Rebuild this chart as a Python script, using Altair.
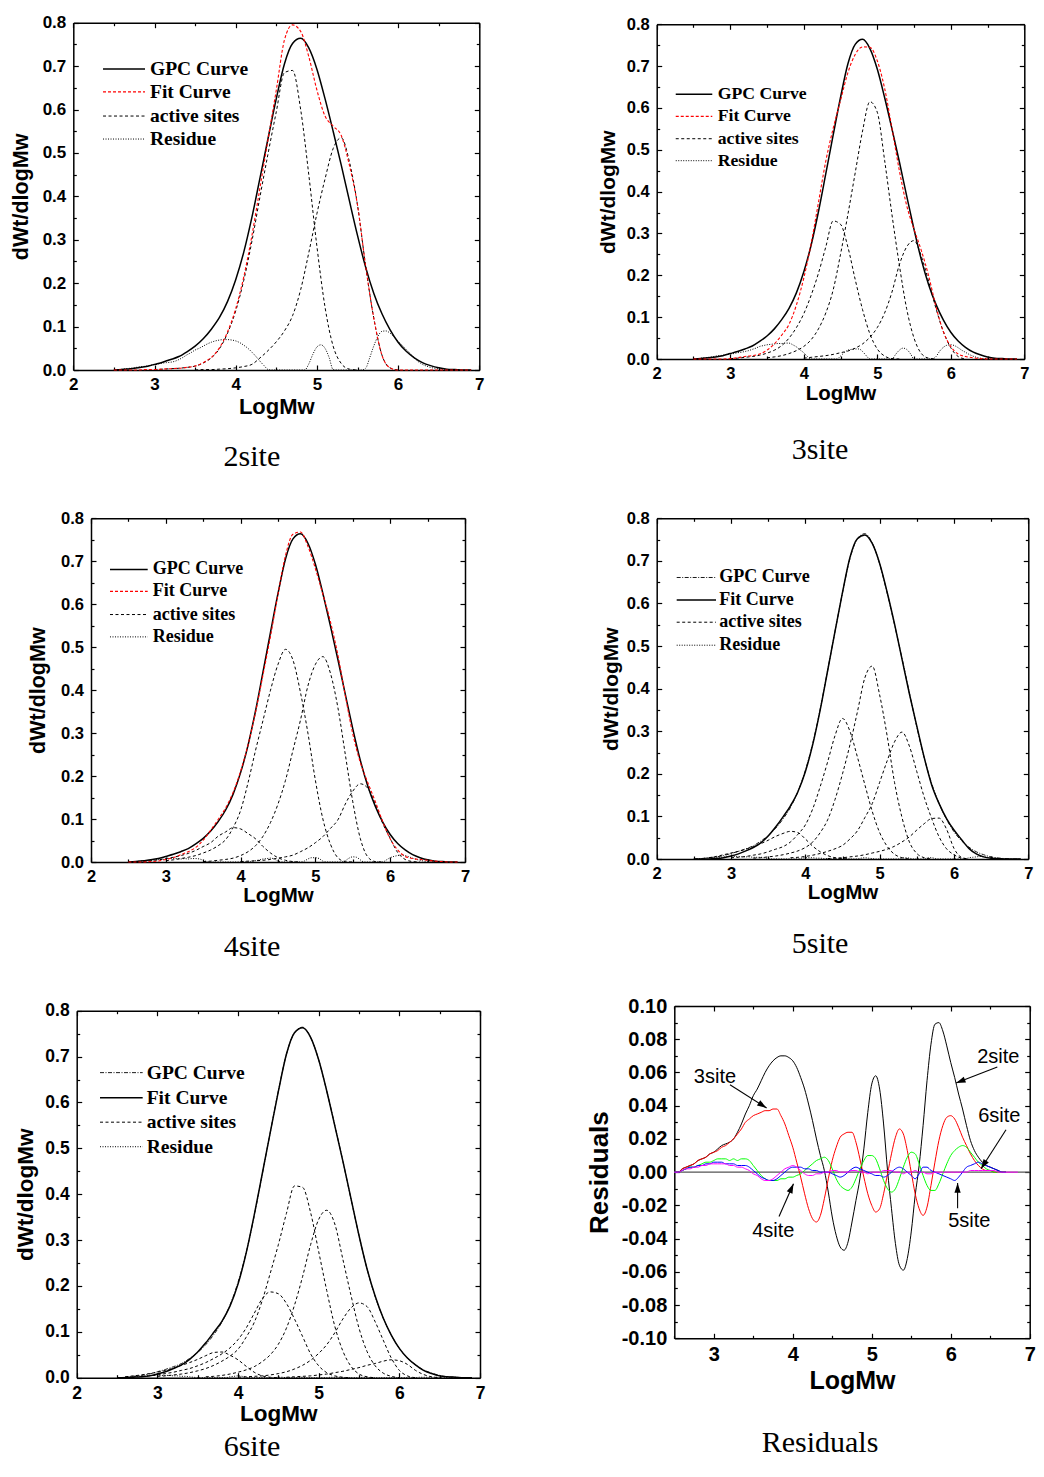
import altair as alt
import pandas as pd

W, H = 1028, 1455

# ---------------- data ----------------
X_START, X_STEP = 2.5, 0.1      # grid of the distribution curves
R_START, R_STEP = 2.5, 0.05     # grid of the residual curves

GPC = [0.000, 0.001, 0.003, 0.005, 0.008, 0.013, 0.018, 0.024, 0.031, 0.042,
       0.055, 0.072, 0.094, 0.121, 0.158, 0.208, 0.272, 0.352, 0.443, 0.535,
       0.625, 0.705, 0.752, 0.764, 0.742, 0.693, 0.625, 0.550, 0.472, 0.390,
       0.310, 0.237, 0.177, 0.130, 0.093, 0.064, 0.043, 0.028, 0.017, 0.010,
       0.005, 0.002, 0.001, 0.000, 0.000]

FIT_2SITE = [0.000, 0.000, 0.000, 0.000, 0.001, 0.001, 0.002, 0.003, 0.004, 0.006,
             0.009, 0.017, 0.029, 0.051, 0.088, 0.141, 0.215, 0.310, 0.421, 0.533,
             0.645, 0.760, 0.795, 0.780, 0.722, 0.645, 0.585, 0.562, 0.540, 0.472,
             0.380, 0.240, 0.120, 0.035, 0.005, 0.000, 0.000, 0.000, 0.000, 0.000,
             0.000, 0.000, 0.000, 0.000, 0.000]
FIT_3SITE = [0.000, 0.000, 0.000, 0.000, 0.000, 0.001, 0.003, 0.006, 0.008, 0.012,
             0.021, 0.036, 0.057, 0.083, 0.129, 0.193, 0.275, 0.374, 0.473, 0.551,
             0.618, 0.684, 0.728, 0.746, 0.745, 0.713, 0.647, 0.551, 0.451, 0.367,
             0.310, 0.259, 0.198, 0.124, 0.065, 0.030, 0.012, 0.006, 0.003, 0.001,
             0.000, 0.000, 0.000, 0.000, 0.000]
FIT_4SITE = [0.000, 0.000, 0.000, 0.001, 0.002, 0.006, 0.010, 0.017, 0.024, 0.034,
             0.051, 0.074, 0.099, 0.126, 0.162, 0.211, 0.273, 0.349, 0.436, 0.526,
             0.623, 0.713, 0.763, 0.768, 0.735, 0.683, 0.623, 0.560, 0.482, 0.387,
             0.298, 0.232, 0.185, 0.141, 0.094, 0.054, 0.028, 0.013, 0.008, 0.006,
             0.004, 0.002, 0.001, 0.000, 0.000]
FIT_5SITE = [0.000, 0.000, 0.000, 0.001, 0.003, 0.007, 0.012, 0.019, 0.027, 0.038,
             0.054, 0.075, 0.099, 0.125, 0.158, 0.205, 0.269, 0.350, 0.442, 0.535,
             0.626, 0.708, 0.752, 0.761, 0.741, 0.694, 0.627, 0.552, 0.470, 0.388,
             0.312, 0.238, 0.174, 0.130, 0.095, 0.068, 0.046, 0.025, 0.012, 0.005,
             0.002, 0.001, 0.000, 0.000, 0.000]
FIT_6SITE = [0.000, 0.000, 0.001, 0.002, 0.004, 0.008, 0.013, 0.020, 0.028, 0.040,
             0.056, 0.076, 0.099, 0.123, 0.156, 0.204, 0.271, 0.354, 0.444, 0.535,
             0.624, 0.705, 0.752, 0.763, 0.742, 0.693, 0.625, 0.549, 0.472, 0.391,
             0.310, 0.237, 0.178, 0.130, 0.093, 0.064, 0.043, 0.028, 0.016, 0.009,
             0.004, 0.002, 0.001, 0.000, 0.000]

# active sites: (first LogMw, values every 0.1)
SITES_2SITE = [
    (3.0, [0.001, 0.002, 0.003, 0.004, 0.006, 0.009, 0.016, 0.028, 0.049, 0.085, 0.136, 0.207, 0.297,
           0.400, 0.500, 0.595, 0.685, 0.690, 0.600, 0.450, 0.285, 0.145, 0.055, 0.015, 0.002, 0.000]),
    (3.5, [0.000, 0.001, 0.001, 0.002, 0.003, 0.005, 0.008, 0.013, 0.028, 0.045, 0.065, 0.090, 0.125,
           0.185, 0.270, 0.360, 0.440, 0.510, 0.535, 0.480, 0.380, 0.240, 0.120, 0.035, 0.005, 0.000]),
]
SITES_3SITE = [
    (3.0, [0.001, 0.002, 0.004, 0.006, 0.009, 0.014, 0.021, 0.032, 0.050, 0.075, 0.108, 0.152, 0.205,
           0.268, 0.330, 0.322, 0.268, 0.190, 0.118, 0.060, 0.024, 0.007, 0.001, 0.000]),
    (3.5, [0.003, 0.005, 0.008, 0.013, 0.020, 0.030, 0.046, 0.072, 0.110, 0.165, 0.250, 0.345, 0.445,
           0.545, 0.615, 0.590, 0.475, 0.345, 0.225, 0.120, 0.050, 0.013, 0.002, 0.000]),
    (4.0, [0.002, 0.004, 0.006, 0.008, 0.011, 0.015, 0.019, 0.026, 0.036, 0.052, 0.075, 0.110, 0.160,
           0.225, 0.268, 0.283, 0.245, 0.185, 0.120, 0.065, 0.027, 0.006, 0.000]),
]
SITES_4SITE = [
    (2.7, [0.001, 0.003, 0.005, 0.008, 0.011, 0.015, 0.020, 0.027, 0.036, 0.045, 0.060, 0.070, 0.080,
           0.077, 0.066, 0.054, 0.036, 0.021, 0.010, 0.004, 0.001, 0.000]),
    (3.0, [0.003, 0.005, 0.008, 0.011, 0.015, 0.021, 0.028, 0.038, 0.052, 0.080, 0.120, 0.185, 0.260,
           0.330, 0.400, 0.460, 0.495, 0.470, 0.395, 0.300, 0.190, 0.100, 0.042, 0.010, 0.001, 0.000]),
    (3.5, [0.001, 0.002, 0.004, 0.006, 0.009, 0.015, 0.024, 0.038, 0.060, 0.092, 0.135, 0.190, 0.260,
           0.330, 0.410, 0.460, 0.478, 0.440, 0.360, 0.250, 0.140, 0.055, 0.012, 0.001, 0.000]),
    (4.0, [0.001, 0.002, 0.003, 0.004, 0.006, 0.009, 0.012, 0.016, 0.024, 0.033, 0.045, 0.059, 0.078,
           0.098, 0.135, 0.165, 0.182, 0.172, 0.135, 0.090, 0.055, 0.022, 0.006, 0.001, 0.000]),
]
SITES_5SITE = [
    (2.7, [0.003, 0.006, 0.010, 0.014, 0.018, 0.023, 0.029, 0.036, 0.044, 0.053, 0.060, 0.065, 0.062,
           0.047, 0.030, 0.017, 0.008, 0.003, 0.001, 0.000]),
    (3.0, [0.003, 0.004, 0.006, 0.009, 0.012, 0.017, 0.023, 0.029, 0.040, 0.058, 0.080, 0.118, 0.170,
           0.228, 0.290, 0.330, 0.300, 0.240, 0.175, 0.112, 0.062, 0.030, 0.011, 0.003, 0.000]),
    (3.3, [0.002, 0.003, 0.005, 0.007, 0.010, 0.014, 0.019, 0.027, 0.040, 0.062, 0.092, 0.140, 0.200,
           0.268, 0.345, 0.425, 0.453, 0.385, 0.290, 0.180, 0.098, 0.040, 0.013, 0.003, 0.000]),
    (3.8, [0.003, 0.004, 0.006, 0.009, 0.013, 0.018, 0.024, 0.032, 0.047, 0.066, 0.097, 0.130, 0.180,
           0.230, 0.275, 0.298, 0.265, 0.205, 0.145, 0.095, 0.052, 0.024, 0.010, 0.002, 0.000]),
    (4.3, [0.001, 0.002, 0.003, 0.005, 0.007, 0.010, 0.014, 0.018, 0.023, 0.030, 0.040, 0.052, 0.068,
           0.083, 0.095, 0.096, 0.070, 0.025, 0.004, 0.000]),
]
SITES_6SITE = [
    (2.6, [0.002, 0.004, 0.006, 0.009, 0.012, 0.016, 0.021, 0.027, 0.033, 0.040, 0.048, 0.055, 0.056,
           0.049, 0.039, 0.025, 0.012, 0.004, 0.001, 0.000]),
    (2.8, [0.002, 0.004, 0.006, 0.009, 0.012, 0.016, 0.020, 0.026, 0.033, 0.042, 0.052, 0.065, 0.083,
           0.108, 0.140, 0.172, 0.187, 0.183, 0.162, 0.128, 0.090, 0.052, 0.026, 0.011, 0.004, 0.001, 0.000]),
    (3.0, [0.003, 0.004, 0.006, 0.008, 0.011, 0.015, 0.020, 0.027, 0.036, 0.047, 0.062, 0.088, 0.120,
           0.168, 0.228, 0.290, 0.358, 0.418, 0.415, 0.360, 0.275, 0.190, 0.112, 0.058, 0.025, 0.008,
           0.002, 0.000]),
    (3.6, [0.002, 0.003, 0.005, 0.008, 0.012, 0.017, 0.024, 0.035, 0.050, 0.073, 0.108, 0.158, 0.220,
           0.290, 0.345, 0.365, 0.335, 0.258, 0.180, 0.108, 0.057, 0.026, 0.010, 0.003, 0.000]),
    (4.0, [0.001, 0.002, 0.003, 0.004, 0.006, 0.009, 0.013, 0.019, 0.027, 0.038, 0.053, 0.072, 0.098,
           0.128, 0.152, 0.163, 0.155, 0.122, 0.082, 0.043, 0.016, 0.004, 0.000]),
    (4.6, [0.001, 0.002, 0.003, 0.004, 0.006, 0.008, 0.011, 0.014, 0.018, 0.022, 0.027, 0.031, 0.036,
           0.039, 0.037, 0.029, 0.016, 0.007, 0.002, 0.000]),
]

RES_2SITE = [0.000, 0.000, 0.002, 0.003, 0.004, 0.005, 0.007, 0.008, 0.009, 0.011,
             0.012, 0.014, 0.016, 0.017, 0.018, 0.020, 0.024, 0.029, 0.035, 0.040,
             0.046, 0.050, 0.055, 0.060, 0.064, 0.067, 0.069, 0.070, 0.070, 0.069,
             0.067, 0.063, 0.057, 0.050, 0.041, 0.031, 0.020, 0.010, 0.001, -0.012,
             -0.027, -0.038, -0.045, -0.047, -0.042, -0.030, -0.017, -0.004, 0.014, 0.036,
             0.053, 0.058, 0.050, 0.029, 0.001, -0.022, -0.043, -0.056, -0.059, -0.052,
             -0.036, -0.014, 0.004, 0.028, 0.055, 0.077, 0.089, 0.090, 0.085, 0.076,
             0.066, 0.057, 0.047, 0.038, 0.028, 0.019, 0.013, 0.009, 0.006, 0.004,
             0.003, 0.002, 0.001, 0.000, 0.000]
RES_3SITE = [0.000, 0.000, 0.002, 0.003, 0.004, 0.005, 0.007, 0.008, 0.009, 0.011,
             0.012, 0.013, 0.015, 0.016, 0.018, 0.020, 0.023, 0.026, 0.030, 0.032,
             0.034, 0.035, 0.036, 0.037, 0.037, 0.038, 0.038, 0.034, 0.029, 0.022,
             0.015, 0.006, -0.003, -0.013, -0.022, -0.028, -0.030, -0.026, -0.016, -0.004,
             0.007, 0.015, 0.021, 0.023, 0.024, 0.024, 0.018, 0.008, -0.003, -0.013,
             -0.020, -0.024, -0.022, -0.013, -0.001, 0.011, 0.021, 0.026, 0.023, 0.013,
             0.000, -0.013, -0.022, -0.026, -0.021, -0.008, 0.006, 0.019, 0.028, 0.033,
             0.034, 0.032, 0.027, 0.021, 0.016, 0.011, 0.007, 0.004, 0.002, 0.001,
             0.001, 0.000, 0.000, 0.000, 0.000]
RES_4SITE = [0.000, 0.000, 0.001, 0.002, 0.003, 0.003, 0.004, 0.005, 0.006, 0.006,
             0.007, 0.008, 0.008, 0.008, 0.007, 0.008, 0.007, 0.008, 0.008, 0.007,
             0.004, 0.001, -0.002, -0.004, -0.005, -0.005, -0.005, -0.004, -0.004, -0.003,
             -0.003, -0.002, -0.001, 0.001, 0.003, 0.005, 0.007, 0.008, 0.009, 0.007,
             0.002, -0.004, -0.008, -0.010, -0.011, -0.009, -0.004, 0.002, 0.007, 0.010,
             0.010, 0.008, 0.002, -0.005, -0.010, -0.012, -0.010, -0.004, 0.003, 0.009,
             0.012, 0.011, 0.005, -0.002, -0.008, -0.011, -0.011, -0.007, -0.001, 0.005,
             0.010, 0.013, 0.015, 0.016, 0.015, 0.012, 0.009, 0.006, 0.004, 0.002,
             0.001, 0.000, 0.000, 0.000, 0.000]
RES_5SITE = [0.000, 0.000, 0.001, 0.002, 0.003, 0.003, 0.004, 0.004, 0.005, 0.005,
             0.006, 0.006, 0.006, 0.005, 0.005, 0.005, 0.004, 0.004, 0.004, 0.003,
             0.001, -0.001, -0.003, -0.004, -0.005, -0.005, -0.004, -0.002, 0.000, 0.002,
             0.003, 0.003, 0.003, 0.002, 0.002, 0.001, 0.001, 0.000, 0.000, 0.000,
             -0.001, -0.002, -0.003, -0.002, 0.000, 0.002, 0.003, 0.002, 0.001, 0.000,
             -0.001, -0.002, -0.002, -0.003, -0.002, 0.000, 0.002, 0.003, 0.002, 0.000,
             -0.002, -0.004, -0.001, 0.003, 0.003, 0.001, 0.000, -0.001, -0.002, -0.003,
             -0.004, -0.005, -0.003, 0.000, 0.003, 0.004, 0.005, 0.006, 0.005, 0.004,
             0.003, 0.002, 0.001, 0.000, 0.000]
RES_6SITE = [0.000, 0.000, 0.001, 0.002, 0.002, 0.003, 0.003, 0.004, 0.004, 0.005,
             0.005, 0.005, 0.005, 0.005, 0.004, 0.004, 0.003, 0.003, 0.002, 0.001,
             -0.001, -0.002, -0.004, -0.005, -0.005, -0.004, -0.002, 0.000, 0.002, 0.003,
             0.004, 0.003, 0.001, -0.001, -0.002, -0.002, -0.001, -0.001, 0.000, 0.000,
             0.001, 0.001, 0.000, 0.000, 0.000, 0.001, 0.001, 0.000, 0.000, -0.001,
             0.000, 0.000, 0.000, 0.001, 0.001, 0.001, 0.000, 0.000, -0.001, 0.000,
             0.000, 0.001, 0.000, 0.000, -0.001, -0.001, 0.000, 0.000, 0.000, 0.000,
             0.000, 0.000, 0.000, 0.000, 0.000, 0.001, 0.001, 0.001, 0.001, 0.001,
             0.001, 0.001, 0.000, 0.000, 0.000, 0.000, 0.000, 0.000]

RES_SERIES = [("2site", RES_2SITE, "#000000"), ("3site", RES_3SITE, "#ff0000"),
              ("4site", RES_4SITE, "#00ff00"), ("5site", RES_5SITE, "#0000ff"),
              ("6site", RES_6SITE, "#ff00ff")]

LEGEND_LABELS = ["GPC Curve", "Fit Curve", "active sites", "Residue"]

# residual annotations: label position, arrow start, arrow tip, arrow angle
ANNOTATIONS = [
    ("2site", 6.602, 0.0695, 6.590, 0.0633, 6.067, 0.0536, 248.8),
    ("3site", 3.015, 0.0572, 3.205, 0.0526, 3.669, 0.0386, 122.5),
    ("6site", 6.615, 0.0339, 6.700, 0.0255, 6.384, 0.0020, 212.6),
    ("4site", 3.753, -0.0352, 3.826, -0.0267, 4.009, -0.0070, 23.9),
    ("5site", 6.235, -0.0297, 6.087, -0.0217, 6.087, -0.0066, 0.0),
]

# ---------------- layout of the panels (pixels inside the chart) ----------------
PANELS = [
    dict(title="2site", fit=FIT_2SITE, sites=SITES_2SITE, res=RES_2SITE, look="red",
         xr=[65.3, 471.3], yr=[362.0, 14.7], lab=17, xts=22, xtp=4, yts=21.5, ytp=9.6,
         legfs=19.5, leg=(2.366, 2.883, 2.945, [0.6935, 0.6406, 0.585, 0.532]),
         tpos=(4.20, -0.2212)),
    dict(title="3site", fit=FIT_3SITE, sites=SITES_3SITE, res=RES_3SITE, look="red",
         xr=[648.7, 1016.3], yr=[351.0, 16.3], lab=16.5, xts=20.5, xtp=1, yts=21, ytp=7.4,
         legfs=17.7, leg=(2.259, 2.756, 2.83, [0.633, 0.580, 0.5265, 0.474]),
         tpos=(4.222, -0.239)),
    dict(title="4site", fit=FIT_4SITE, sites=SITES_4SITE, res=RES_4SITE, look="red",
         xr=[83.0, 457.0], yr=[854.0, 510.3], lab=16.5, xts=20.5, xtp=0.5, yts=21.5, ytp=11.5,
         legfs=18, leg=(2.254, 2.758, 2.825, [0.681, 0.630, 0.576, 0.524]),
         tpos=(4.152, -0.2186)),
    dict(title="5site", fit=FIT_5SITE, sites=SITES_5SITE, res=RES_5SITE, look="black",
         xr=[648.7, 1020.3], yr=[851.0, 510.3], lab=16.5, xts=20.5, xtp=0, yts=21, ytp=4.4,
         legfs=18, leg=(2.269, 2.798, 2.843, [0.661, 0.608, 0.556, 0.502]),
         tpos=(4.198, -0.2207)),
    dict(title="6site", fit=FIT_6SITE, sites=SITES_6SITE, res=RES_6SITE, look="black",
         xr=[68.7, 472.0], yr=[1369.7, 1002.7], lab=17.5, xts=22.5, xtp=1, yts=22.5, ytp=7.8,
         legfs=19.5, leg=(2.289, 2.818, 2.868, [0.665, 0.610, 0.557, 0.5035]),
         tpos=(4.173, -0.1707)),
]
RES_PANEL = dict(xr=[666.3, 1021.7], yr=[1330.3, 998.0], lab=20, xts=25, xtp=3.5, yts=26,
                 ytp=9.1, tpos=(4.345, -0.1685))

SANS = "Liberation Sans"
SERIF = "Liberation Serif"
FRAME_W = 1.5

# ---------------- helpers ----------------
def frame(start, step, values, key="s"):
    return pd.DataFrame({"x": [round(start + i * step, 3) for i in range(len(values))],
                         "y": values, "k": key})


def xy(sx, sy):
    return dict(x=alt.X("x:Q", scale=sx, axis=None), y=alt.Y("y:Q", scale=sy, axis=None))


def line_layer(df, sx, sy, color, width, dash=None, detail=False):
    kw = dict(color=color, strokeWidth=width, interpolate="monotone")
    if dash:
        kw["strokeDash"] = dash
    enc = xy(sx, sy)
    if detail:
        enc["detail"] = "k:N"
    return alt.Chart(df).mark_line(**kw).encode(**enc)


BASE_AX = dict(grid=False, labelFlush=False, labelOverlap=False, domainColor="black",
               tickColor="black", labelColor="black", titleColor="black")


def axis_layer(sx, sy, dom_df, channel, **kw):
    ax = alt.Axis(**{**BASE_AX, **kw})
    if channel == "x":
        enc = dict(x=alt.X("x:Q", scale=sx, axis=ax), y=alt.Y("y:Q", scale=sy, axis=None))
    else:
        enc = dict(x=alt.X("x:Q", scale=sx, axis=None), y=alt.Y("y:Q", scale=sy, axis=ax))
    return alt.Chart(dom_df).mark_point(opacity=0).encode(**enc)


def frame_axes(sx, sy, dom_df, xr, yr, xmaj, xmin, ymaj, ymin):
    xl, xrt = xr
    yb, yt = yr
    t = dict(labels=False, domain=False, title=None, ticks=True, tickWidth=1.2)
    return [
        axis_layer(sx, sy, dom_df, "x", orient="top", offset=-yb, values=xmaj, tickSize=5, **t),
        axis_layer(sx, sy, dom_df, "x", orient="top", offset=-yb, values=xmin, tickSize=3, **t),
        axis_layer(sx, sy, dom_df, "x", orient="bottom", offset=yt - H, values=xmaj, tickSize=5, **t),
        axis_layer(sx, sy, dom_df, "x", orient="bottom", offset=yt - H, values=xmin, tickSize=3, **t),
        axis_layer(sx, sy, dom_df, "y", orient="right", offset=xl - W, values=ymaj, tickSize=5, **t),
        axis_layer(sx, sy, dom_df, "y", orient="right", offset=xl - W, values=ymin, tickSize=3, **t),
        axis_layer(sx, sy, dom_df, "y", orient="left", offset=-xrt, values=ymaj, tickSize=5, **t),
        axis_layer(sx, sy, dom_df, "y", orient="left", offset=-xrt, values=ymin, tickSize=3, **t),
        axis_layer(sx, sy, dom_df, "x", orient="bottom", offset=yt - H, domain=True,
                   domainWidth=FRAME_W, labels=False, ticks=False, tickSize=0, title=None),
        axis_layer(sx, sy, dom_df, "y", orient="left", offset=-xrt, domain=True,
                   domainWidth=FRAME_W, labels=False, ticks=False, tickSize=0, title=None),
    ]


def label_axes(sx, sy, dom_df, p, xvals, yvals, xfmt, yfmt, ytitle, ylabexpr=None):
    xl, xrt = p["xr"]
    yb, yt = p["yr"]
    ykw = dict(orient="left", offset=-xl, values=yvals, format=yfmt, ticks=False, tickSize=0,
               domain=True, domainWidth=FRAME_W, labelFont=SANS, labelFontWeight="bold",
               labelFontSize=p["lab"], labelPadding=7.5, title=ytitle, titleFont=SANS,
               titleFontWeight="bold", titleFontSize=p["yts"], titlePadding=p["ytp"])
    if ylabexpr:
        ykw["labelExpr"] = ylabexpr
    return [
        axis_layer(sx, sy, dom_df, "x", orient="bottom", offset=yb - H, values=xvals, format=xfmt,
                   ticks=False, tickSize=0, domain=True, domainWidth=FRAME_W, labelFont=SANS,
                   labelFontWeight="bold", labelFontSize=p["lab"], labelPadding=6.5,
                   title="LogMw", titleFont=SANS, titleFontWeight="bold",
                   titleFontSize=p["xts"], titlePadding=p["xtp"]),
        axis_layer(sx, sy, dom_df, "y", **ykw),
    ]


def text_layer(df, sx, sy, **kw):
    return alt.Chart(df).mark_text(**kw).encode(text="t:N", **xy(sx, sy))


# ---------------- distribution panels ----------------
XMAJ = [2, 3, 4, 5, 6, 7]
XMIN = [2.5, 3.5, 4.5, 5.5, 6.5]
YMAJ = [round(0.1 * i, 2) for i in range(9)]
YMIN = [round(0.05 + 0.1 * i, 2) for i in range(8)]

panels = []
for p in PANELS:
    sx = alt.Scale(domain=[2, 7], range=p["xr"], nice=False, zero=False)
    sy = alt.Scale(domain=[0, 0.8], range=p["yr"], nice=False, zero=False)
    dom_df = pd.DataFrame({"x": [2, 7], "y": [0, 0.8]})
    gpc_df = frame(X_START, X_STEP, GPC, "gpc")
    fit_df = frame(X_START, X_STEP, p["fit"], "fit")
    sites_df = pd.concat([frame(s, X_STEP, v, "site%d" % i) for i, (s, v) in enumerate(p["sites"])],
                         ignore_index=True)
    resid_df = frame(R_START, R_STEP, [max(v, 0.0) for v in p["res"]], "res")

    red = p["look"] == "red"
    if red:
        styles = [("#000000", 1.5, None), ("#ff0000", 1.1, [3, 2]),
                  ("#000000", 1.0, [3, 2.5]), ("#000000", 1.0, [1, 1.5])]
    else:
        styles = [("#000000", 0.9, [4, 1.5, 1, 1.5]), ("#000000", 1.5, None),
                  ("#000000", 1.0, [3, 2.5]), ("#000000", 1.0, [1, 1.5])]

    layers = []
    layers.append(line_layer(resid_df, sx, sy, *styles[3]))
    layers.append(line_layer(sites_df, sx, sy, *styles[2], detail=True))
    if red:
        layers.append(line_layer(gpc_df, sx, sy, *styles[0]))
        layers.append(line_layer(fit_df, sx, sy, *styles[1]))
    else:
        layers.append(line_layer(fit_df, sx, sy, *styles[1]))
        layers.append(line_layer(gpc_df, sx, sy, *styles[0]))

    # legend drawn inside the panel
    x0, x1, xt, ys = p["leg"]
    for (lab, yv, st) in zip(LEGEND_LABELS, ys, styles):
        color, width, dash = st
        kw = dict(color=color, strokeWidth=width)
        if dash:
            kw["strokeDash"] = dash
        ldf = pd.DataFrame({"x": [x0], "x2": [x1], "y": [yv], "t": [lab], "xt": [xt]})
        layers.append(alt.Chart(ldf).mark_rule(**kw).encode(
            x=alt.X("x:Q", scale=sx, axis=None), x2="x2:Q", y=alt.Y("y:Q", scale=sy, axis=None)))
        layers.append(alt.Chart(ldf).mark_text(align="left", baseline="middle", font=SERIF,
                                               fontWeight="bold", fontSize=p["legfs"],
                                               color="black").encode(
            x=alt.X("xt:Q", scale=sx, axis=None), y=alt.Y("y:Q", scale=sy, axis=None), text="t:N"))

    # panel caption under the plot
    tdf = pd.DataFrame({"x": [p["tpos"][0]], "y": [p["tpos"][1]], "t": [p["title"]]})
    layers.append(text_layer(tdf, sx, sy, align="center", baseline="alphabetic", font=SERIF,
                             fontSize=30, color="black"))

    layers += frame_axes(sx, sy, dom_df, p["xr"], p["yr"], XMAJ, XMIN, YMAJ, YMIN)
    layers += label_axes(sx, sy, dom_df, p, XMAJ, YMAJ, "d", ".1f", "dWt/dlogMw")
    panels.append(alt.layer(*layers).resolve_axis(x="independent", y="independent"))

# ---------------- residual panel ----------------
p = RES_PANEL
sx = alt.Scale(domain=[2.5, 7], range=p["xr"], nice=False, zero=False)
sy = alt.Scale(domain=[-0.1, 0.1], range=p["yr"], nice=False, zero=False)
dom_df = pd.DataFrame({"x": [2.5, 7], "y": [-0.1, 0.1]})
layers = []
zero_df = pd.DataFrame({"x": [2.5], "x2": [7.0], "y": [0.0]})
layers.append(alt.Chart(zero_df).mark_rule(color="#555555", strokeWidth=1.2).encode(
    x=alt.X("x:Q", scale=sx, axis=None), x2="x2:Q", y=alt.Y("y:Q", scale=sy, axis=None)))
for name, vals, color in RES_SERIES:
    layers.append(line_layer(frame(R_START, R_STEP, vals, name), sx, sy, color, 1.0))

ann = pd.DataFrame(ANNOTATIONS, columns=["t", "tx", "ty", "ax", "ay", "bx", "by", "ang"])
layers.append(alt.Chart(ann).mark_rule(color="black", strokeWidth=1.1).encode(
    x=alt.X("ax:Q", scale=sx, axis=None), y=alt.Y("ay:Q", scale=sy, axis=None),
    x2="bx:Q", y2="by:Q"))
layers.append(alt.Chart(ann).mark_point(shape="M0,0L-0.36,1.1L0.36,1.1Z", filled=True,
                                        color="black", opacity=1, size=300).encode(
    x=alt.X("bx:Q", scale=sx, axis=None), y=alt.Y("by:Q", scale=sy, axis=None),
    angle=alt.Angle("ang:Q", scale=None)))
layers.append(alt.Chart(ann).mark_text(align="center", baseline="middle", font=SANS,
                                       fontSize=20, color="black").encode(
    x=alt.X("tx:Q", scale=sx, axis=None), y=alt.Y("ty:Q", scale=sy, axis=None), text="t:N"))
tdf = pd.DataFrame({"x": [p["tpos"][0]], "y": [p["tpos"][1]], "t": ["Residuals"]})
layers.append(text_layer(tdf, sx, sy, align="center", baseline="alphabetic", font=SERIF,
                         fontSize=30, color="black"))

RX_MAJ = [3, 4, 5, 6, 7]
RX_MIN = [2.5, 3.5, 4.5, 5.5, 6.5]
RY_MAJ = [round(-0.1 + 0.02 * i, 2) for i in range(11)]
RY_MIN = [round(-0.09 + 0.02 * i, 2) for i in range(10)]
layers += frame_axes(sx, sy, dom_df, p["xr"], p["yr"], RX_MAJ, RX_MIN, RY_MAJ, RY_MIN)
layers += label_axes(sx, sy, dom_df, p, RX_MAJ, RY_MAJ, "d", ".2f", "Residuals",
                     ylabexpr="replace(datum.label, '\u2212', '-')")
panels.append(alt.layer(*layers).resolve_axis(x="independent", y="independent"))

chart = alt.layer(*panels).resolve_scale(x="independent", y="independent").resolve_axis(
    x="independent", y="independent").properties(
    width=W, height=H, padding=0, autosize=alt.AutoSizeParams(type="none")
).configure_view(stroke=None)

chart.save("out.html", embed_options={"renderer": "svg", "actions": False})
